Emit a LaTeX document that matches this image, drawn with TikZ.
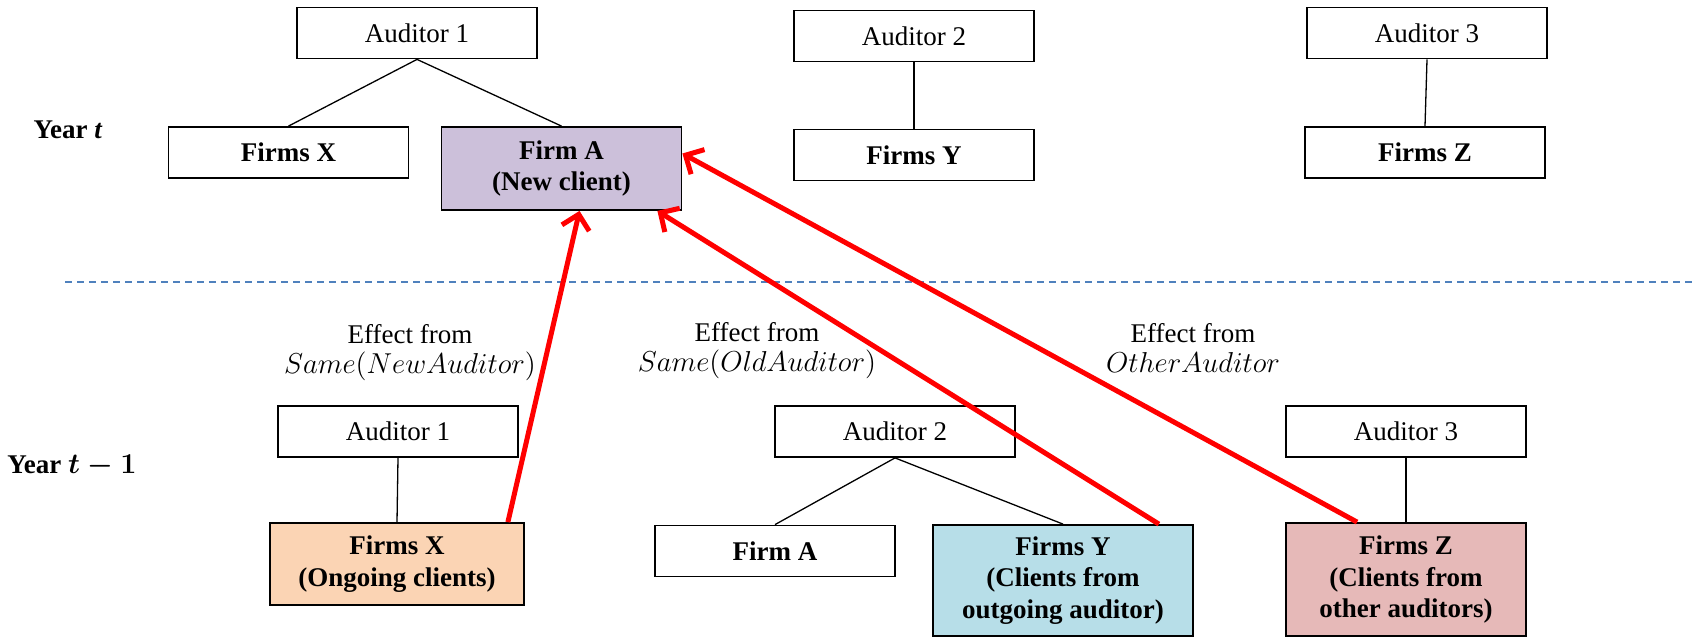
\documentclass[tikz,border=0pt]{standalone}
\usepackage{fontspec}
\setmainfont{Liberation Serif}
\usetikzlibrary{arrows.meta}

\definecolor{newclient}{HTML}{CCC0DA}
\definecolor{ongoing}{HTML}{FBD4B4}
\definecolor{outgoing}{HTML}{B7DEE8}
\definecolor{otheraud}{HTML}{E6B9B8}
\definecolor{yearline}{HTML}{4F81BD}

\begin{document}
\begin{tikzpicture}[x=0.5pt,y=-0.5pt,
  font=\fontsize{13.5}{15.75}\selectfont,
  box/.style={draw,line width=0.9pt,minimum width=120pt,minimum height=25.5pt,inner sep=0pt,align=center},
  firm/.style={box,font=\fontsize{13.5}{15.75}\selectfont\bfseries},
  tie/.style={line width=0.65pt},
  efftext/.style={align=center,font=\fontsize{13.5}{15}\selectfont},
  effect/.style={red,line width=2.5pt,-{Straight Barb[length=7pt,width=14pt]}}]

\useasboundingbox (0,0) rectangle (1696,637);

\node (yeart) at (68,130) {\textbf{Year \textit{t}}};
\node (yearb) at (72,466) {\textbf{Year {\boldmath$t-1$}}};

\node (aud1t) [box] at (417,33) {Auditor 1};
\node (firmsXt) [firm] at (288.5,152.5) {Firms X};
\node (firmAt) [firm,fill=newclient,minimum height=41.5pt] at (561.5,168.5) {Firm A\\(New client)};
\node (aud2t) [box] at (914,36) {Auditor 2};
\node (firmsYt) [firm] at (914,155) {Firms Y};
\node (aud3t) [box] at (1427,33) {Auditor 3};
\node (firmsZt) [firm] at (1425,152.5) {Firms Z};

\draw[tie] (aud1t.south) -- (firmsXt.north);
\draw[tie] (aud1t.south) -- (firmAt.north);
\draw[tie] (aud2t.south) -- (firmsYt.north);
\draw[tie] (aud3t.south) -- (firmsZt.north);

\coordinate (dashL) at (65,282);
\coordinate (dashR) at (1696,282);
\draw[yearline,line width=1pt,dash pattern=on 3.5pt off 2.5pt] (dashL) -- (dashR);

\node (effnew) [efftext] at (410,353) {Effect from\\$Same(NewAuditor)$};
\node (effold) [efftext] at (757,351) {Effect from\\$Same(OldAuditor)$};
\node (effother) [efftext] at (1193,348) {Effect from\\$OtherAuditor$};

\node (aud1b) [box] at (398,431.5) {Auditor 1};
\node (firmsXb) [firm,fill=ongoing,minimum width=127pt,minimum height=41pt] at (397,564) {Firms X\\(Ongoing clients)};
\node (aud2b) [box] at (895,431.5) {Auditor 2};
\node (firmAb) [firm] at (775,551) {Firm A};
\node (firmsYb) [firm,fill=outgoing,minimum width=130pt,minimum height=55.5pt] at (1063,580.5) {Firms Y\\(Clients from\\outgoing auditor)};
\node (aud3b) [box] at (1406,431.5) {Auditor 3};
\node (firmsZb) [firm,fill=otheraud,minimum height=56.5pt] at (1406,579.5) {Firms Z\\(Clients from\\other auditors)};

\draw[tie] (aud1b.south) -- (firmsXb.north);
\draw[tie] (aud2b.south) -- (firmAb.north);
\draw[tie] (aud2b.south) -- (firmsYb.north);
\draw[tie] (aud3b.south) -- (firmsZb.north);

\draw[effect] ([xshift=-8.5pt]firmsXb.north east) -- ([xshift=9pt]firmAt.south);
\draw[effect] ([xshift=-17.5pt]firmsYb.north east) -- ([xshift=-12.5pt]firmAt.south east);
\draw[effect] ([xshift=36pt]firmsZb.north west) -- ([yshift=7.5pt]firmAt.east);

\end{tikzpicture}
\end{document}
